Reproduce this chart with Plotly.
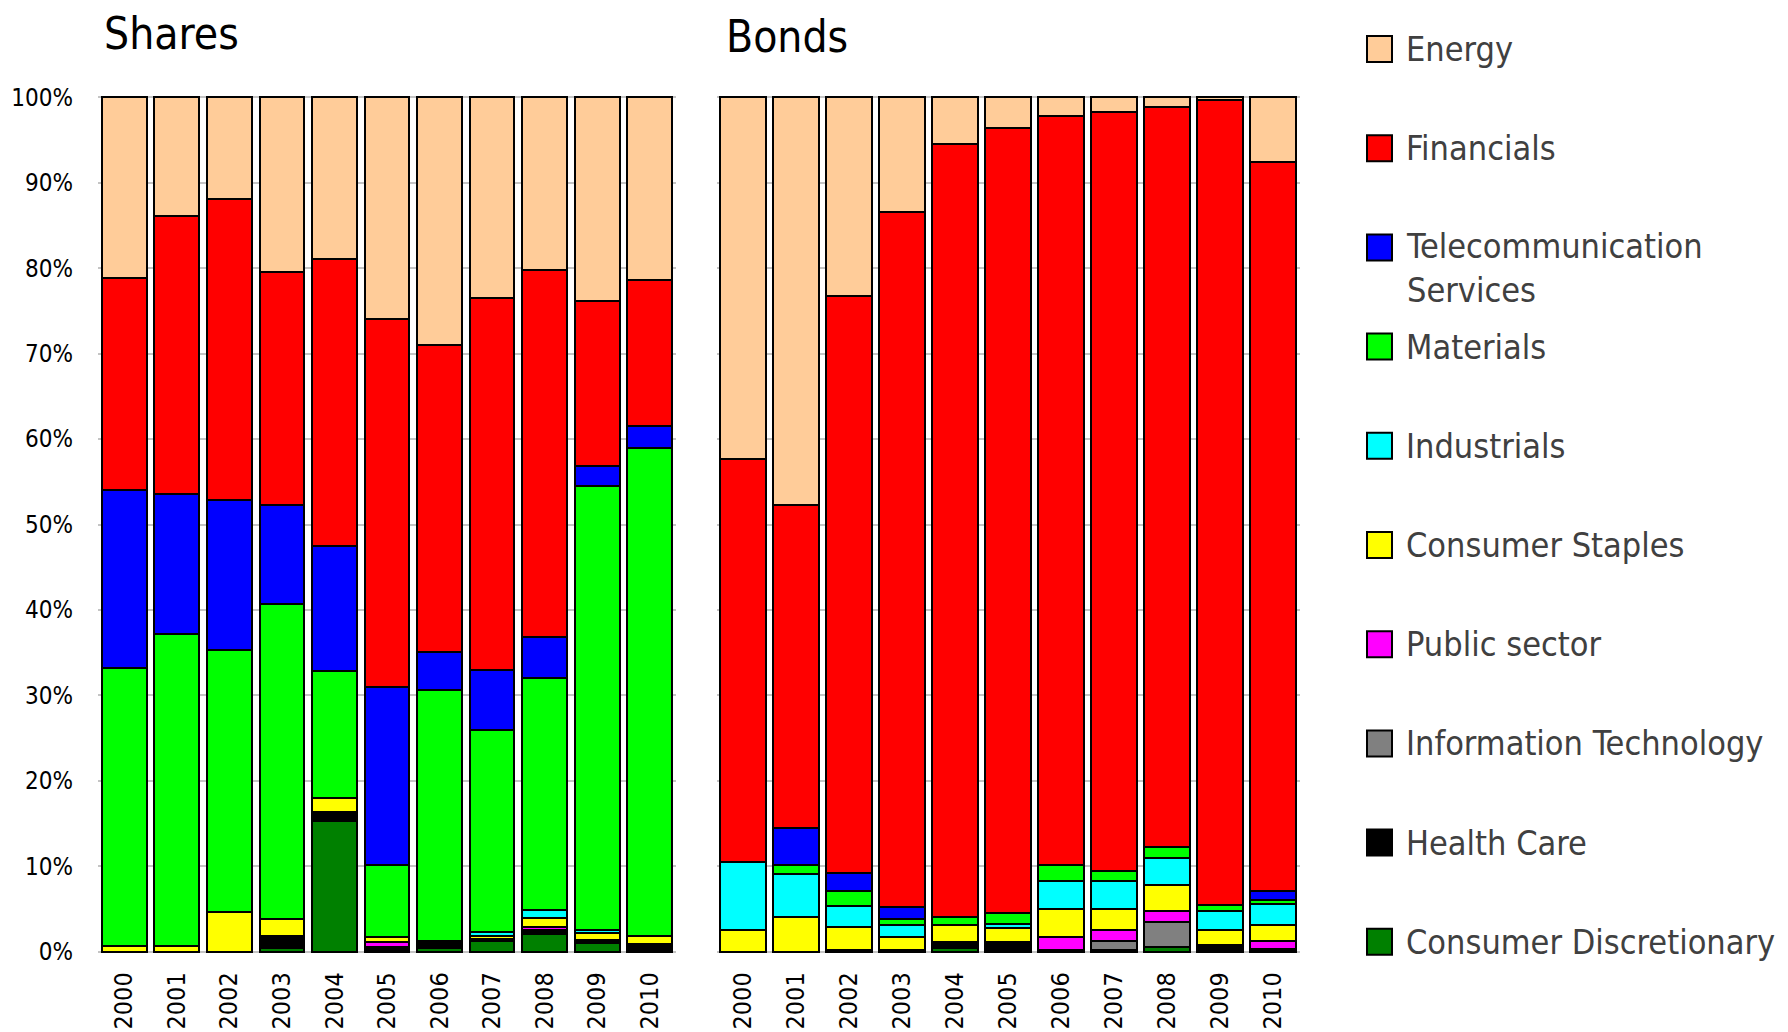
import plotly.graph_objects as go

years = ["2000", "2001", "2002", "2003", "2004", "2005", "2006", "2007", "2008", "2009", "2010"]

# stacking order bottom -> top
sectors = ["Consumer Discretionary", "Health Care", "Information Technology", "Public sector",
           "Consumer Staples", "Industrials", "Materials", "Telecommunication Services",
           "Financials", "Energy"]
legend_labels = ["Consumer Discretionary", "Health Care", "Information Technology", "Public sector",
                 "Consumer Staples", "Industrials", "Materials", "Telecommunication<br>Services",
                 "Financials", "Energy"]
colors = ["#008000", "#000000", "#808080", "#FF00FF", "#FFFF00", "#00FFFF", "#00FF00",
          "#0000FF", "#FF0000", "#FFCC99"]

# Shares (% of total)
shares_cons_disc = [0, 0, 0, 0.4, 15.3, 0, 0.4, 1.2, 2.1, 1.0, 0]
shares_health    = [0, 0, 0, 1.4, 1.0, 0.5, 0.9, 0.3, 0.4, 0.4, 0.9]
shares_infotech  = [0, 0, 0, 0, 0, 0, 0, 0, 0, 0, 0]
shares_public    = [0, 0, 0, 0, 0, 0.6, 0, 0, 0.4, 0, 0]
shares_cons_stap = [0.7, 0.7, 4.7, 2.0, 1.7, 0.6, 0, 0.4, 1.1, 0.8, 1.0]
shares_industr   = [0, 0, 0, 0, 0, 0, 0, 0.4, 0.9, 0.3, 0]
shares_materials = [32.5, 36.5, 30.6, 36.9, 14.8, 8.5, 29.3, 23.6, 27.1, 52.0, 57.1]
shares_telecom   = [20.8, 16.4, 17.6, 11.6, 14.7, 20.8, 4.5, 7.1, 4.8, 2.3, 2.5]
shares_financial = [24.9, 32.5, 35.2, 27.3, 33.6, 43.1, 35.9, 43.5, 43.0, 19.4, 17.1]
shares_energy    = [21.1, 13.9, 11.9, 20.4, 18.9, 25.9, 29.0, 23.5, 20.2, 23.8, 21.4]

# Bonds (% of total)
bonds_cons_disc = [0, 0, 0, 0, 0.4, 0, 0, 0, 0.5, 0, 0]
bonds_health    = [0, 0, 0.2, 0.2, 0.7, 1.1, 0.2, 0.2, 0, 0.5, 0.3]
bonds_infotech  = [0, 0, 0, 0, 0, 0, 0, 1.1, 3.0, 0, 0]
bonds_public    = [0, 0, 0, 0, 0, 0, 1.5, 1.3, 1.3, 0.3, 0.9]
bonds_cons_stap = [2.5, 4.1, 2.7, 1.5, 2.0, 1.7, 3.3, 2.4, 3.0, 1.7, 1.9]
bonds_industr   = [8.0, 5.0, 2.5, 1.4, 0, 0.5, 3.3, 3.3, 3.2, 2.3, 2.5]
bonds_materials = [0, 1.0, 1.7, 0.7, 1.0, 1.2, 1.8, 1.1, 1.2, 0.7, 0.5]
bonds_telecom   = [0, 4.4, 2.1, 1.4, 0, 0, 0, 0, 0, 0, 1.0]
bonds_financial = [47.2, 37.8, 67.5, 81.4, 90.4, 91.9, 87.7, 88.9, 86.7, 94.2, 85.3]
bonds_energy    = [42.3, 47.7, 23.3, 13.4, 5.5, 3.6, 2.2, 1.7, 1.1, 0.3, 7.6]

shares_series = [shares_cons_disc, shares_health, shares_infotech, shares_public, shares_cons_stap,
                 shares_industr, shares_materials, shares_telecom, shares_financial, shares_energy]
bonds_series = [bonds_cons_disc, bonds_health, bonds_infotech, bonds_public, bonds_cons_stap,
                bonds_industr, bonds_materials, bonds_telecom, bonds_financial, bonds_energy]

y_tickvals = [0, 10, 20, 30, 40, 50, 60, 70, 80, 90, 100]
y_ticktext = ["0%", "10%", "20%", "30%", "40%", "50%", "60%", "70%", "80%", "90%", "100%"]

W, H = 1788, 1032
NARROW = "DejaVu Sans Condensed, Liberation Sans Narrow, sans-serif"


def px_x(x):
    return x / W


def px_y(y):
    return 1 - y / H


def nz(vals):
    return [v if v else None for v in vals]


fig = go.Figure()
for name, col, s_vals, b_vals in zip(sectors, colors, shares_series, bonds_series):
    fig.add_trace(go.Bar(x=years, y=nz(s_vals), name=name, marker=dict(color=col, line=dict(color="black", width=2)),
                         xaxis="x", yaxis="y", showlegend=False))
    fig.add_trace(go.Bar(x=years, y=nz(b_vals), name=name, marker=dict(color=col, line=dict(color="black", width=2)),
                         xaxis="x2", yaxis="y2", showlegend=False))

y_dom = [px_y(954.3), px_y(94.7)]
common_y = dict(range=[-0.3, 100.3], tickvals=y_tickvals, showgrid=True, gridcolor="#c4c4c4", gridwidth=2,
                zeroline=False, showline=False, domain=y_dom, fixedrange=True, automargin=False)
common_x = dict(type="category", tickangle=-90, showgrid=False, zeroline=False, showline=False,
                tickfont=dict(family=NARROW, size=25, color="black"), ticklabelstandoff=12, automargin=False)

fig.update_layout(
    template="none",
    width=W, height=H,
    margin=dict(l=0, r=0, t=0, b=0, pad=0),
    paper_bgcolor="white", plot_bgcolor="white",
    barmode="stack", bargap=0.15,
    showlegend=False,
    xaxis=dict(domain=[px_x(98), px_x(676)], anchor="y", **common_x),
    xaxis2=dict(domain=[px_x(716.5), px_x(1299.5)], anchor="y2", **common_x),
    yaxis=dict(anchor="x", ticktext=y_ticktext, tickfont=dict(family=NARROW, size=24, color="black"),
               ticklabelstandoff=24, **common_y),
    yaxis2=dict(anchor="x2", showticklabels=False, **common_y),
)

annotations = [
    dict(text="Shares", x=px_x(102), y=px_y(33), xref="paper", yref="paper", xanchor="left", yanchor="middle",
         showarrow=False, font=dict(family=NARROW, size=44, color="black")),
    dict(text="Bonds", x=px_x(724), y=px_y(37), xref="paper", yref="paper", xanchor="left", yanchor="middle",
         showarrow=False, font=dict(family=NARROW, size=44, color="black")),
]
shapes = []
LEG_FS = 34
for i, (lab, col) in enumerate(zip(reversed(legend_labels), reversed(colors))):
    cy = 49 + 99.2 * i
    shapes.append(dict(type="rect", xref="paper", yref="paper", x0=px_x(1367), x1=px_x(1392),
                       y0=px_y(cy + 13), y1=px_y(cy - 13), fillcolor=col, line=dict(color="black", width=2)))
    if "<br>" in lab:
        annotations.append(dict(text=lab, x=px_x(1404), y=px_y(cy - 0.65 * LEG_FS - 1), xref="paper", yref="paper",
                                xanchor="left", yanchor="top", align="left", showarrow=False,
                                font=dict(family=NARROW, size=LEG_FS, color="#404040")))
    else:
        annotations.append(dict(text=lab, x=px_x(1404), y=px_y(cy), xref="paper", yref="paper",
                                xanchor="left", yanchor="middle", align="left", showarrow=False,
                                font=dict(family=NARROW, size=LEG_FS, color="#404040")))

fig.update_layout(annotations=annotations, shapes=shapes)
fig.write_html("out.html", config={"displayModeBar": False},
               post_script="document.body.style.margin='0';document.body.style.overflow='hidden';")
